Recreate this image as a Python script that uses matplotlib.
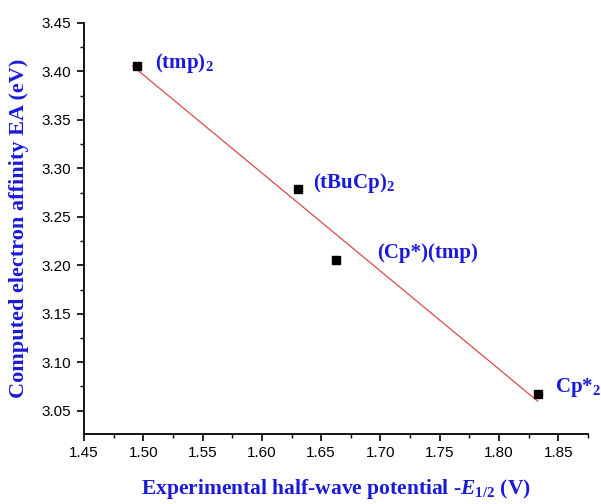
import numpy as np
import matplotlib
matplotlib.use('Agg')
import matplotlib.pyplot as plt
from matplotlib.ticker import MultipleLocator

matplotlib.rcParams['mathtext.fontset'] = 'custom'
matplotlib.rcParams['mathtext.rm'] = 'Liberation Serif:bold'
matplotlib.rcParams['mathtext.bf'] = 'Liberation Serif:bold'
matplotlib.rcParams['mathtext.it'] = 'Liberation Serif:bold:italic'

# data
names = ['(tmp)$_2$', '(tBuCp)$_2$', '(Cp*)(tmp)', 'Cp*$_2$']
e_half = [1.495, 1.6305, 1.6628, 1.8326]
ea = [3.406, 3.2785, 3.206, 3.067]
label_dx = [0.015, 0.013, 0.034, 0.015]
label_dy = [0.003, 0.006, 0.007, 0.007]

blue = '#1a1ad8'

fig = plt.figure(figsize=(6.01, 5.04), dpi=100)
ax = fig.add_axes([0.1398, 0.1389, 0.8385, 0.8155])

x = np.array(e_half)
y = np.array(ea)
k, b = np.polyfit(x, y, 1)
xf = np.array([x.min() - 0.004, x.max()])
ax.plot(xf, k * xf + b, color='#e04848', lw=0.9, zorder=1)
ax.plot(x, y, 's', color='black', ms=6, zorder=2)

for n, xi, yi, dx, dy in zip(names, e_half, ea, label_dx, label_dy):
    ax.text(xi + dx, yi + dy, n, color=blue, fontsize=15, fontfamily='Liberation Serif',
            fontweight='bold', va='center', ha='left')

ax.set_xlim(1.45, 1.875)
ax.set_ylim(3.026, 3.45)
ax.xaxis.set_minor_locator(MultipleLocator(0.025))
ax.yaxis.set_minor_locator(MultipleLocator(0.025))
xt = np.arange(1.45, 1.851, 0.05)
yt = np.arange(3.05, 3.451, 0.05)
ax.set_xticks(xt)
ax.set_xticklabels(['%.2f' % v for v in xt])
ax.set_yticks(yt)
ax.set_yticklabels(['%.2f' % v for v in yt])

ax.spines['right'].set_color('none')
ax.spines['top'].set_color('none')
for s in ['left', 'bottom']:
    ax.spines[s].set_linewidth(1.3)
ax.tick_params(which='major', direction='out', length=5, width=1.2, labelsize=11, pad=4)
ax.tick_params(which='minor', direction='out', length=3, width=1.0)
for lab in ax.get_xticklabels() + ax.get_yticklabels():
    lab.set_fontfamily('Liberation Sans')

ax.set_xlabel('Experimental half-wave potential -$\\mathit{E}_{1/2}$ (V)', color=blue,
              fontsize=15.5, fontfamily='Liberation Serif', fontweight='bold', labelpad=12)
ax.set_ylabel('Computed electron affinity EA (eV)', color=blue,
              fontsize=16, fontfamily='Liberation Serif', fontweight='bold', labelpad=9)

fig.savefig('out.png', dpi=100)
